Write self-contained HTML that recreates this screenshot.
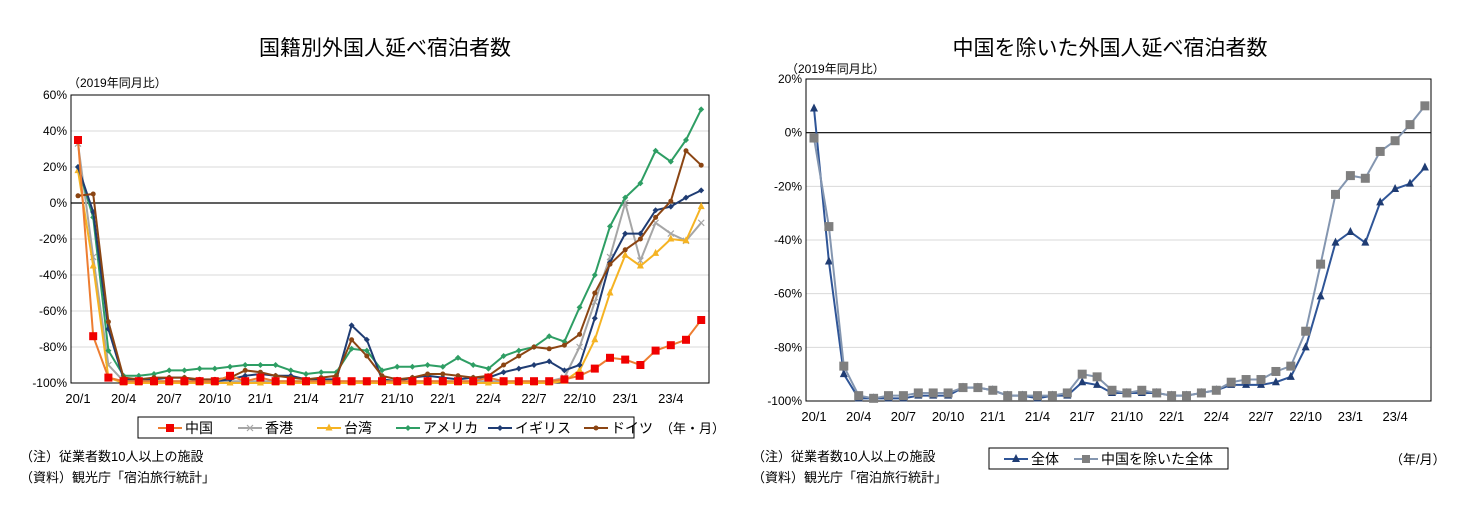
<!DOCTYPE html>
<html><head><meta charset="utf-8">
<style>
body{margin:0;background:#fff;}
svg{display:block;font-family:"Liberation Sans","Noto Sans CJK JP",sans-serif;}
</style></head>
<body>
<svg id="svg" width="1457" height="517" viewBox="0 0 1457 517" xmlns="http://www.w3.org/2000/svg">
<text x="385" y="55" font-size="21" text-anchor="middle">国籍別外国人延べ宿泊者数</text>
<text x="1110" y="55" font-size="21" text-anchor="middle">中国を除いた外国人延べ宿泊者数</text>
<text x="68" y="87" font-size="12">（2019年同月比）</text>
<text x="786" y="73" font-size="12">（2019年同月比）</text>
<g id="left"></g>
<g id="right"></g>
<rect x="138" y="417" width="496" height="21" fill="#fff" stroke="#000"/>
<g id="legL"></g>
<text x="660" y="433" font-size="13">（年・月）</text>
<rect x="989" y="448" width="239" height="21" fill="#fff" stroke="#000"/>
<g id="legR"></g>
<text x="1390" y="464" font-size="13">（年/月）</text>
<text x="20" y="461" font-size="13">（注）従業者数10人以上の施設</text>
<text x="20" y="482" font-size="13">（資料）観光庁「宿泊旅行統計」</text>
<text x="752" y="461" font-size="13">（注）従業者数10人以上の施設</text>
<text x="752" y="482" font-size="13">（資料）観光庁「宿泊旅行統計」</text>
</svg>
<script>
const xLabels=["20/1","20/4","20/7","20/10","21/1","21/4","21/7","21/10","22/1","22/4","22/7","22/10","23/1","23/4"];
const china=[35,-74,-97,-99,-99,-99,-99,-99,-99,-99,-96,-99,-97,-99,-99,-99,-99,-99,-99,-99,-99,-99,-99,-99,-99,-99,-99,-97,-99,-99,-99,-99,-98,-96,-92,-86,-87,-90,-82,-79,-76,-65];
const hongkong=[33,-30,-90,-99,-99,-99,-99,-99,-99,-99,-99,-99,-99,-99,-99,-99,-99,-99,-99,-99,-99,-99,-99,-99,-99,-99,-99,-99,-99,-99,-99,-99,-97,-80,-55,-30,0,-32,-11,-17,-21,-11];
const taiwan=[18,-35,-97,-100,-100,-100,-100,-100,-100,-100,-100,-100,-100,-100,-100,-100,-100,-100,-100,-100,-100,-100,-100,-100,-100,-100,-100,-100,-100,-100,-100,-100,-99,-93,-76,-50,-29,-35,-28,-20,-21,-2];
const usa=[20,-8,-82,-96,-96,-95,-93,-93,-92,-92,-91,-90,-90,-90,-93,-95,-94,-94,-81,-82,-93,-91,-91,-90,-91,-86,-90,-92,-85,-82,-80,-74,-77,-58,-40,-13,3,11,29,23,35,52];
const uk=[20,-5,-70,-98,-98,-98,-97,-97,-99,-99,-98,-96,-95,-96,-96,-98,-98,-98,-68,-76,-98,-99,-97,-96,-97,-98,-97,-97,-94,-92,-90,-88,-93,-90,-64,-33,-17,-17,-4,-2,3,7];
const germany=[4,5,-66,-97,-98,-97,-97,-97,-98,-98,-97,-93,-94,-96,-97,-98,-97,-96,-76,-85,-96,-98,-97,-95,-95,-96,-97,-96,-90,-85,-80,-81,-79,-73,-50,-34,-26,-20,-8,1,29,21];
const total=[9,-48,-90,-99,-99,-99,-99,-98,-98,-98,-95,-95,-96,-98,-98,-99,-98,-98,-93,-94,-97,-97,-97,-97,-98,-98,-97,-96,-94,-94,-94,-93,-91,-80,-61,-41,-37,-41,-26,-21,-19,-13];
const exChina=[-2,-35,-87,-98,-99,-98,-98,-97,-97,-97,-95,-95,-96,-98,-98,-98,-98,-97,-90,-91,-96,-97,-96,-97,-98,-98,-97,-96,-93,-92,-92,-89,-87,-74,-49,-23,-16,-17,-7,-3,3,10];
const leftTicks=[60,40,20,0,-20,-40,-60,-80,-100];
const rightTicks=[20,0,-20,-40,-60,-80,-100];

const NS="http://www.w3.org/2000/svg";
function mk(tag,attrs,parent,txt){const e=document.createElementNS(NS,tag);for(const k in attrs)e.setAttribute(k,attrs[k]);if(txt!==undefined)e.textContent=txt;parent.appendChild(e);return e;}

function marker(g,type,x,y,color,s){
  let e;
  if(type==='sq'){e=mk('rect',{x:x-s,y:y-s,width:2*s,height:2*s,fill:color},g);}
  else if(type==='tri'){e=mk('polygon',{points:`${x},${y-s-1} ${x-s},${y+s-1} ${x+s},${y+s-1}`,fill:color},g);}
  else if(type==='dia'){e=mk('polygon',{points:`${x},${y-s} ${x+s},${y} ${x},${y+s} ${x-s},${y}`,fill:color},g);}
  else if(type==='x'){e=mk('path',{d:`M${x-s} ${y-s}L${x+s} ${y+s}M${x-s} ${y+s}L${x+s} ${y-s}`,stroke:color,'stroke-width':1.2},g);}
  else {e=mk('circle',{cx:x,cy:y,r:s,fill:color},g);}
  return e;
}

function chart(gid,cfg){
  const g=document.getElementById(gid);
  const X=i=>cfg.x0+i*cfg.dx;
  const Y=v=>cfg.yTop+(cfg.vmax-v)*(cfg.yBot-cfg.yTop)/(cfg.vmax-cfg.vmin);
  for(const t of cfg.ticks){
    const y=Y(t);
    const ln=mk('line',{x1:cfg.left,x2:cfg.right,y1:y,y2:y,stroke:t===0?'#000':'#d9d9d9','stroke-width':t===0?1.2:1},g);
    
    
    const tx=mk('text',{x:cfg.left-4,y:y+4,'font-size':12,'text-anchor':'end'},g,t+'%');
    
    
  }
  const fr=mk('rect',{x:cfg.left,y:cfg.yTop,width:cfg.right-cfg.left,height:cfg.yBot-cfg.yTop,fill:'none',stroke:'#000','stroke-width':1},g);
  
  
  xLabels.forEach((l,k)=>{
    const tx=mk('text',{x:X(k*3),y:cfg.yBot+20,'font-size':13,'text-anchor':'middle'},g,l);
    
    
  });
  for(const s of cfg.series){
    const sg=mk('g',{},g);
    
    
    const pts=s.data.map((v,i)=>X(i)+','+Y(v)).join(' ');
    mk('polyline',{points:pts,fill:'none',stroke:s.line,'stroke-width':2},sg);
    s.data.forEach((v,i)=>{
      const m=marker(sg,s.mk,X(i),Y(v),s.color,s.ms);
      
      
    });
  }
}

chart('left',{left:71,right:709,yTop:95,yBot:383,vmax:60,vmin:-100,x0:78,dx:15.2,ticks:leftTicks,series:[
  {name:'series-hongkong',data:hongkong,line:'#a6a6a6',color:'#a6a6a6',mk:'x',ms:3},
  {name:'series-taiwan',data:taiwan,line:'#f5b323',color:'#f5b323',mk:'tri',ms:3.5},
  {name:'series-usa',data:usa,line:'#2e9e64',color:'#2e9e64',mk:'dia',ms:3},
  {name:'series-uk',data:uk,line:'#1f3c73',color:'#1f3c73',mk:'dia',ms:3},
  {name:'series-germany',data:germany,line:'#8b4513',color:'#8b4513',mk:'circle',ms:2.5},
  {name:'series-china',data:china,line:'#ed7d31',color:'#f00000',mk:'sq',ms:4}
]});
chart('right',{left:806,right:1431,yTop:79,yBot:401,vmax:20,vmin:-100,x0:814,dx:14.9,ticks:rightTicks,series:[
  {name:'series-total',data:total,line:'#2f5597',color:'#1f3c73',mk:'tri',ms:4},
  {name:'series-ex-china',data:exChina,line:'#8496b0',color:'#7f7f7f',mk:'sq',ms:4.5}
]});

function legend(gid,items,x0,y,gaps){
  const g=document.getElementById(gid);
  let x=x0;
  items.forEach((it,k)=>{
    const eg=mk('g',{},g);
    
    
    mk('line',{x1:x,x2:x+24,y1:y,y2:y,stroke:it.line,'stroke-width':2},eg);
    marker(eg,it.mk,x+12,y,it.color,it.ms);
    mk('text',{x:x+27,y:y+5,'font-size':14},eg,it.label);
    x+=gaps[k];
  });
}
legend('legL',[
  {label:'中国',line:'#ed7d31',color:'#f00000',mk:'sq',ms:4},
  {label:'香港',line:'#a6a6a6',color:'#a6a6a6',mk:'x',ms:3},
  {label:'台湾',line:'#f5b323',color:'#f5b323',mk:'tri',ms:3.5},
  {label:'アメリカ',line:'#2e9e64',color:'#2e9e64',mk:'dia',ms:3},
  {label:'イギリス',line:'#1f3c73',color:'#1f3c73',mk:'dia',ms:3},
  {label:'ドイツ',line:'#8b4513',color:'#8b4513',mk:'circle',ms:2.5}
],158,428,[80,79,79,92,96,90]);
legend('legR',[
  {label:'全体',line:'#2f5597',color:'#1f3c73',mk:'tri',ms:4},
  {label:'中国を除いた全体',line:'#8496b0',color:'#7f7f7f',mk:'sq',ms:4}
],1004,459,[70,150]);
</script>
</body></html>
